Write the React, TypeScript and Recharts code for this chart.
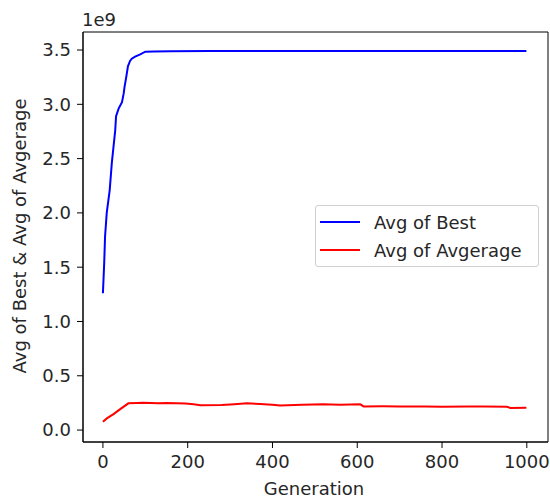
import React from 'react';
import { LineChart, Line, XAxis, YAxis, ReferenceArea, Label } from 'recharts';

const bestGen = [0, 3, 5, 9, 16, 21, 25, 29, 31, 37, 45, 49, 51, 55, 59, 64, 68, 76, 88, 100, 120, 160, 250, 400, 600, 800, 999];
const bestVal = [1.26, 1.535, 1.78, 2.0, 2.21, 2.46, 2.61, 2.76, 2.89, 2.96, 3.02, 3.1, 3.16, 3.25, 3.35, 3.4, 3.42, 3.44, 3.46, 3.485, 3.487, 3.488, 3.49, 3.49, 3.49, 3.49, 3.49];

const avgGen = [0, 10, 25, 40, 60, 80, 96, 130, 150, 174, 195, 214, 230, 280, 310, 340, 371, 400, 418, 470, 520, 560, 607, 615, 660, 700, 760, 800, 860, 900, 953, 961, 999];
const avgVal = [0.077, 0.11, 0.147, 0.19, 0.246, 0.25, 0.252, 0.248, 0.25, 0.246, 0.244, 0.237, 0.228, 0.23, 0.238, 0.246, 0.24, 0.232, 0.227, 0.232, 0.237, 0.234, 0.237, 0.218, 0.219, 0.217, 0.216, 0.215, 0.216, 0.217, 0.215, 0.204, 0.205];

const xTicks = [0, 200, 400, 600, 800, 1000];
const yTicks = [0, 0.5, 1.0, 1.5, 2.0, 2.5, 3.0, 3.5];

const seriesNames = ['Avg of Best', 'Avg of Avgerage'];
const seriesColors = ['#0000ff', '#ff0000'];

const bestData = bestGen.map((g, i) => ({ gen: g, value: bestVal[i] }));
const avgData = avgGen.map((g, i) => ({ gen: g, value: avgVal[i] }));

const FONT = '"DejaVu Sans", sans-serif';
const TXT = '#262626';
const FS = 18;

export default function App() {
  return (
    <div style={{ position: 'absolute', left: 0, top: 0, width: 550, height: 501 }}>
      <LineChart
        width={550}
        height={501}
        margin={{ top: 32, right: 2, left: 0, bottom: 0 }}
        style={{ fontFamily: FONT }}
      >
        <XAxis
          dataKey="gen"
          type="number"
          domain={[-47, 1050]}
          ticks={xTicks}
          allowDataOverflow
          height={59}
          tickSize={6}
          tickMargin={7}
          stroke="#000"
          tick={{ fill: TXT, fontSize: FS, fontFamily: FONT }}
          tickLine={{ stroke: '#000' }}
          axisLine={{ stroke: '#000' }}
        >
          <Label
            content={() => (
              <text x={314} y={495} textAnchor="middle" fontSize={FS} fontFamily={FONT} fill={TXT}>
                Generation
              </text>
            )}
          />
        </XAxis>
        <YAxis
          type="number"
          domain={[-0.11, 3.666]}
          ticks={yTicks}
          allowDataOverflow
          width={83}
          tickSize={6}
          tickMargin={6}
          stroke="#000"
          tickFormatter={(v: number) => v.toFixed(1)}
          tick={{ fill: TXT, fontSize: FS, fontFamily: FONT }}
          tickLine={{ stroke: '#000' }}
          axisLine={{ stroke: '#000' }}
        >
          <Label
            content={() => (
              <g>
                <text
                  x={19}
                  y={236}
                  transform="rotate(-90 19 236)"
                  textAnchor="middle"
                  dominantBaseline="central"
                  fontSize={FS}
                  fontFamily={FONT}
                  fill={TXT}
                >
                  Avg of Best &amp; Avg of Avgerage
                </text>
                <text x={82} y={26} fontSize={FS} fontFamily={FONT} fill={TXT}>
                  1e9
                </text>
              </g>
            )}
          />
        </YAxis>
        <ReferenceArea x1={-47} x2={1050} y1={-0.11} y2={3.666} fill="none" stroke="#000" strokeWidth={1} ifOverflow="visible" />
        <Line
          data={bestData}
          dataKey="value"
          name={seriesNames[0]}
          stroke={seriesColors[0]}
          strokeWidth={2}
          dot={false}
          type="linear"
          isAnimationActive={false}
        />
        <Line
          data={avgData}
          dataKey="value"
          name={seriesNames[1]}
          stroke={seriesColors[1]}
          strokeWidth={2}
          dot={false}
          type="linear"
          isAnimationActive={false}
        />
      </LineChart>
      <div
        style={{
          position: 'absolute',
          left: 315,
          top: 205,
          width: 224,
          height: 62,
          border: '1px solid #d0d0d0',
          borderRadius: 3,
          background: 'rgba(255,255,255,0.8)',
          boxSizing: 'border-box',
          fontFamily: FONT,
          fontSize: FS,
          color: TXT,
          paddingTop: 2,
        }}
      >
        {seriesNames.map((n, i) => (
          <div key={n} style={{ display: 'flex', alignItems: 'center', height: 28 }}>
            <svg width={58} height={10} style={{ flex: 'none' }}>
              <line x1={4} y1={5} x2={44} y2={5} stroke={seriesColors[i]} strokeWidth={2} />
            </svg>
            <span style={{ whiteSpace: 'nowrap' }}>{n}</span>
          </div>
        ))}
      </div>
    </div>
  );
}
